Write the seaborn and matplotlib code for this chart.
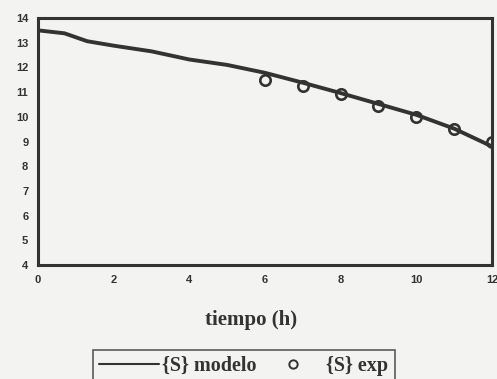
import matplotlib
matplotlib.use("Agg")
import matplotlib.pyplot as plt
import seaborn as sns
import pandas as pd
from matplotlib.lines import Line2D

# Data
t_model = [0, 0.7, 1.3, 2, 3, 4, 5, 6, 7, 8, 9, 10, 11, 12]
s_model = [13.5, 13.38, 13.06, 12.88, 12.65, 12.32, 12.1, 11.78, 11.38, 10.96, 10.52, 10.08, 9.52, 8.8]
t_exp = [6, 7, 8, 9, 10, 11, 12]
s_exp = [11.5, 11.25, 10.92, 10.45, 10.0, 9.5, 9.0]
x_ticks = [0, 2, 4, 6, 8, 10, 12]
y_ticks = [4, 5, 6, 7, 8, 9, 10, 11, 12, 13, 14]

sns.set_style("white")
bg = "#f3f3f1"
ink = "#333333"

fig = plt.figure(figsize=(4.97, 3.79), dpi=100, facecolor=bg)
ax = fig.add_axes([38/497, 1-265/379, (492-38)/497, (265-18)/379])
ax.set_facecolor(bg)

df_m = pd.DataFrame({"t": t_model, "S": s_model})
df_e = pd.DataFrame({"t": t_exp, "S": s_exp})
sns.lineplot(data=df_m, x="t", y="S", ax=ax, color=ink, linewidth=2.8)
ax.plot(df_e["t"], df_e["S"], linestyle="none", marker="o", markersize=7.5,
        markerfacecolor="none", markeredgecolor=ink, markeredgewidth=1.9)

ax.set_xlim(0, 12)
ax.set_ylim(4, 14)
ax.set_xticks(x_ticks)
ax.set_yticks(y_ticks)
ax.set_xticklabels([str(v) for v in x_ticks])
ax.set_yticklabels([str(v) for v in y_ticks])
for s in ax.spines.values():
    s.set_color(ink)
    s.set_linewidth(2.2)
ax.tick_params(axis="both", direction="inout", length=6, width=1.6, color=ink,
               labelsize=8, labelcolor=ink, pad=4)
for lab in ax.get_xticklabels() + ax.get_yticklabels():
    lab.set_fontfamily("Liberation Sans")
    lab.set_fontweight("bold")
ax.set_xlabel("tiempo (h)", fontfamily="Liberation Serif", fontweight="bold",
              fontsize=15, color=ink)
ax.xaxis.set_label_coords((251-38)/454, (265-320)/247)
ax.xaxis.label.set_verticalalignment("center")
ax.set_ylabel("")

handles = [Line2D([], [], color=ink, linewidth=1.5),
           Line2D([], [], linestyle="none", marker="o", markersize=6,
                  markerfacecolor="none", markeredgecolor=ink, markeredgewidth=1.4)]
leg = fig.legend(handles, ["{S} modelo", "{S} exp"], ncol=2,
                 loc="upper left", bbox_to_anchor=(93/497, 1-350/379),
                 borderaxespad=0,
                 frameon=True, fancybox=False, handlelength=3.0, handletextpad=0.15,
                 columnspacing=0.3, borderpad=0.3, markerscale=1,
                 prop={"family": "Liberation Serif", "weight": "bold", "size": 14.5})
leg.get_frame().set_edgecolor(ink)
leg.get_frame().set_linewidth(1.2)
leg.get_frame().set_facecolor(bg)
for txt in leg.get_texts():
    txt.set_color(ink)

fig.savefig("out.png", dpi=100, facecolor=bg)
